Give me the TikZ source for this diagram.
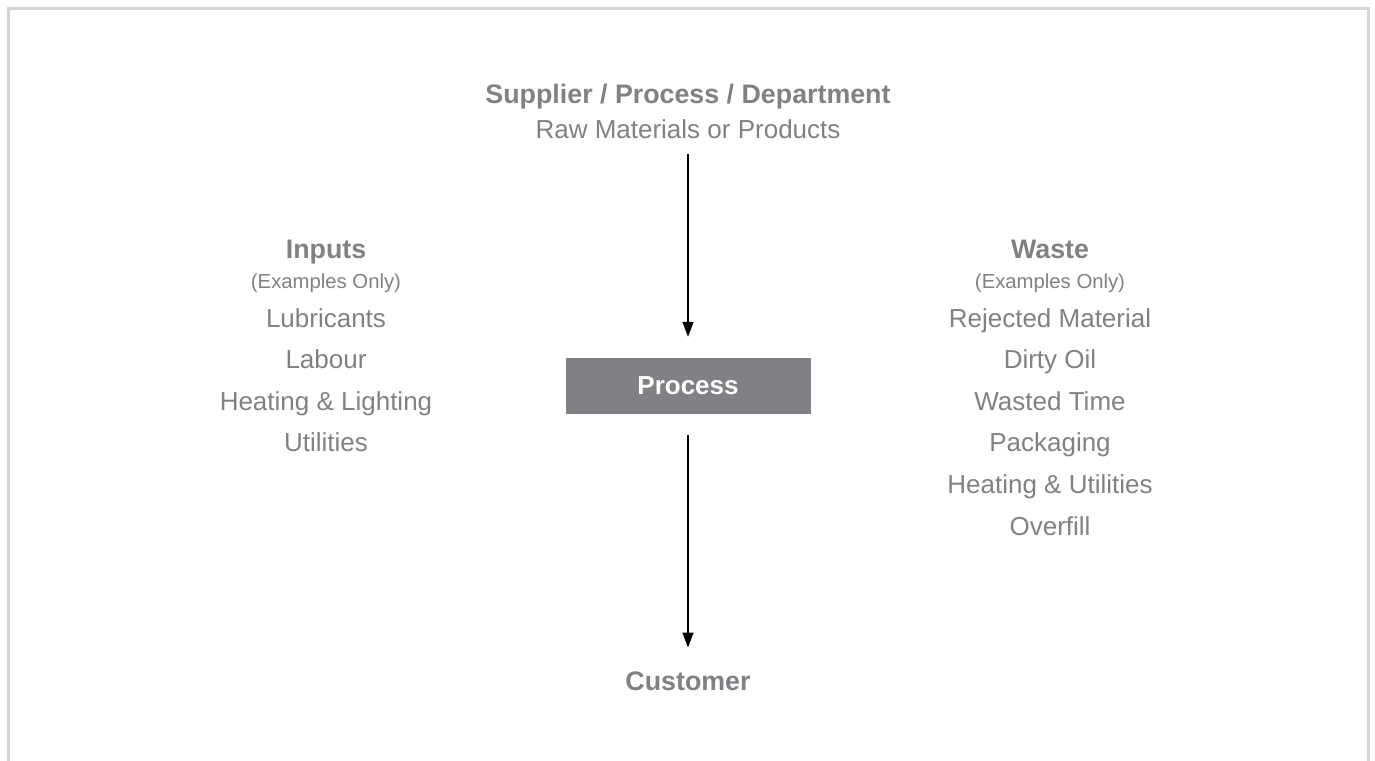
\documentclass[tikz,border=0pt]{standalone}
\usepackage{fontspec}
\setmainfont{Liberation Sans}
\usetikzlibrary{arrows.meta}

\definecolor{labelgray}{RGB}{128,129,132}
\definecolor{boxgray}{RGB}{128,129,133}
\definecolor{framegray}{RGB}{214,214,214}

\tikzset{
  title/.style={inner sep=0pt, anchor=base, text=labelgray, font=\fontsize{26.8}{30}\selectfont\bfseries},
  item/.style={inner sep=0pt, anchor=base, text=labelgray, font=\fontsize{26}{30}\selectfont},
  note/.style={inner sep=0pt, anchor=base, text=labelgray, font=\fontsize{20.3}{24}\selectfont},
  flow/.style={line width=1.3pt, -{Triangle[length=15pt,width=11pt]}},
}

\begin{document}
\begin{tikzpicture}[x=1pt,y=-1pt]
            \useasboundingbox (0,0) rectangle (1375,760);
            \draw[framegray, line width=3pt] (8.5,775) -- (8.5,8.5) -- (1368,8.5) -- (1368,775);

            \node[title] (supplier) at (688,103) {Supplier / Process / Department};
            \node[item] (raw) at (688,138) {Raw Materials or Products};

            \node[fill=boxgray, minimum width=245pt, minimum height=56pt, inner sep=0pt,
                  text=white, font=\fontsize{26}{30}\selectfont\bfseries] (proc) at (688,386) {Process};

            \node[title] (customer) at (688,690) {Customer};

            % inputs
            \node[title] (inputs) at (326,258) {Inputs};
            \node[note] (inputsnote) at (326,288) {(Examples Only)};
            \foreach \name [count=\i] in {Lubricants, Labour, Heating \& Lighting, Utilities}
                \node[item] (input\i) at (326,{327+41.5*(\i-1)}) {\name};

            % waste
            \node[title] (waste) at (1050,258) {Waste};
            \node[note] (wastenote) at (1050,288) {(Examples Only)};
            \foreach \name [count=\i] in {Rejected Material, Dirty Oil, Wasted Time, Packaging, Heating \& Utilities, Overfill}
                \node[item] (waste\i) at (1050,{327+41.6*(\i-1)}) {\name};

            \draw[flow, shorten <=16pt, shorten >=21pt] (raw) -- (proc);
            \draw[flow, shorten <=21pt, shorten >=23.5pt] (proc) -- (customer);
        \end{tikzpicture}
\end{document}
